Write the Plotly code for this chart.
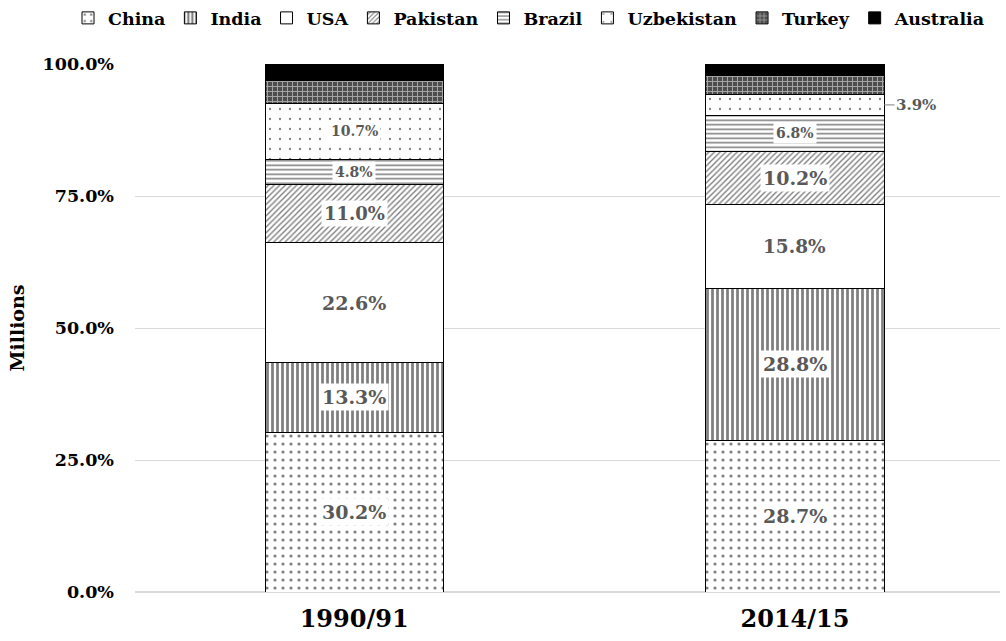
import plotly.graph_objects as go

periods = ["1990/91", "2014/15"]
countries = ["China", "India", "USA", "Pakistan", "Brazil", "Uzbekistan", "Turkey", "Australia"]
china = [30.2, 28.7]
india = [13.3, 28.8]
usa = [22.6, 15.8]
pakistan = [11.0, 10.2]
brazil = [4.8, 6.8]
uzbekistan = [10.7, 3.9]
turkey = [4.2, 3.7]
australia = [3.2, 2.1]
series = [china, india, usa, pakistan, brazil, uzbekistan, turkey, australia]

patterns = {
    "China": dict(shape=".", fgcolor="#000000", bgcolor="white", size=8, solidity=0.12),
    "India": dict(shape="|", fgcolor="#000000", bgcolor="white", size=5, solidity=0.55),
    "USA": dict(shape="", fgcolor="#000000", bgcolor="white"),
    "Pakistan": dict(shape="/", fgcolor="#000000", bgcolor="white", size=4, solidity=0.35),
    "Brazil": dict(shape="-", fgcolor="#000000", bgcolor="white", size=4.5, solidity=0.35),
    "Uzbekistan": dict(shape=".", fgcolor="#000000", bgcolor="white", size=10, solidity=0.04),
    "Turkey": dict(shape="+", fgcolor="#ffffff", bgcolor="#4d4d4d", size=5, solidity=0.35),
    "Australia": dict(shape="", fgcolor="#000000", bgcolor="#000000"),
}
colors = {"Australia": "#000000"}

FONT = "DejaVu Serif"
W, H = 1006, 641
ML, MR, MT, MB = 0, 6, 0, 49
PLOT_LEFT, PLOT_RIGHT, PLOT_TOP = 135, 1000, 64

fig = go.Figure()
BW = 0.404
for name, vals in zip(countries, series):
    fig.add_trace(go.Bar(
        x=periods, y=vals, name=name, width=BW,
        marker=dict(color=colors.get(name, "white"), pattern=patterns[name],
                    line=dict(color="#000000", width=1)),
    ))

# labels: (series index, period index, font size)
label_spec = [
    (0, 0, 19), (1, 0, 19), (2, 0, 19), (3, 0, 18), (4, 0, 14), (5, 0, 14),
    (0, 1, 19), (1, 1, 19), (2, 1, 18.5), (3, 1, 19), (4, 1, 14),
]
for si, pi, fs in label_spec:
    base = sum(s[pi] for s in series[:si])
    mid = base + series[si][pi] / 2
    fig.add_annotation(
        x=periods[pi], y=mid, text="%.1f%%" % series[si][pi],
        showarrow=False, bgcolor="white", borderpad=2,
        font=dict(family=FONT, size=fs, color="#595959", weight="bold"),
    )
# outside label for Uzbekistan 2014/15
base = sum(s[1] for s in series[:5])
mid = base + series[5][1] / 2
fig.add_annotation(
    x=1 + BW / 2, y=mid, text="%.1f%%" % series[5][1],
    showarrow=True, arrowhead=0, arrowwidth=1, arrowcolor="#808080",
    ax=32, ay=0, font=dict(family=FONT, size=15, color="#595959", weight="bold"),
)

gw = W - ML - MR
gh = H - MT - MB
fig.update_layout(
    barmode="stack",
    width=W, height=H,
    plot_bgcolor="white", paper_bgcolor="white",
    margin=dict(l=ML, r=MR, t=MT, b=MB, autoexpand=False),
    font=dict(family=FONT, color="#000000"),
    legend=dict(orientation="h", x=68 / gw, xanchor="left",
                y=1.0, yanchor="top",
                font=dict(family=FONT, size=17.5, color="#000000", weight="bold"),
                traceorder="normal", itemwidth=30),
    showlegend=True,
)
fig.update_xaxes(
    domain=[(PLOT_LEFT - ML) / gw, (PLOT_RIGHT - ML) / gw],
    range=[-0.497, 1.465], showgrid=False, showline=False, zeroline=False,
    tickfont=dict(family=FONT, size=24, color="#000000", weight="bold"), ticks="",
    ticklabelstandoff=10, automargin=False,
)
fig.update_yaxes(
    domain=[0, (H - MB - PLOT_TOP) / gh],
    range=[0, 100], tickvals=[0, 25, 50, 75, 100],
    ticktext=["%.1f%%" % v for v in [0, 25, 50, 75, 100]],
    showgrid=True, gridcolor="#d9d9d9", gridwidth=1, zeroline=True, zerolinecolor="#d9d9d9",
    showline=False, ticks="", automargin=False,
    tickfont=dict(family=FONT, size=17.5, color="#000000", weight="bold"),
    ticklabelstandoff=20,
    title=dict(text="Millions", font=dict(family=FONT, size=19, color="#000000", weight="bold"),
               standoff=12),
)
fig.write_html("out.html", config={"displayModeBar": False},
               post_script="document.body.style.margin='0';document.body.style.overflow='hidden';")
